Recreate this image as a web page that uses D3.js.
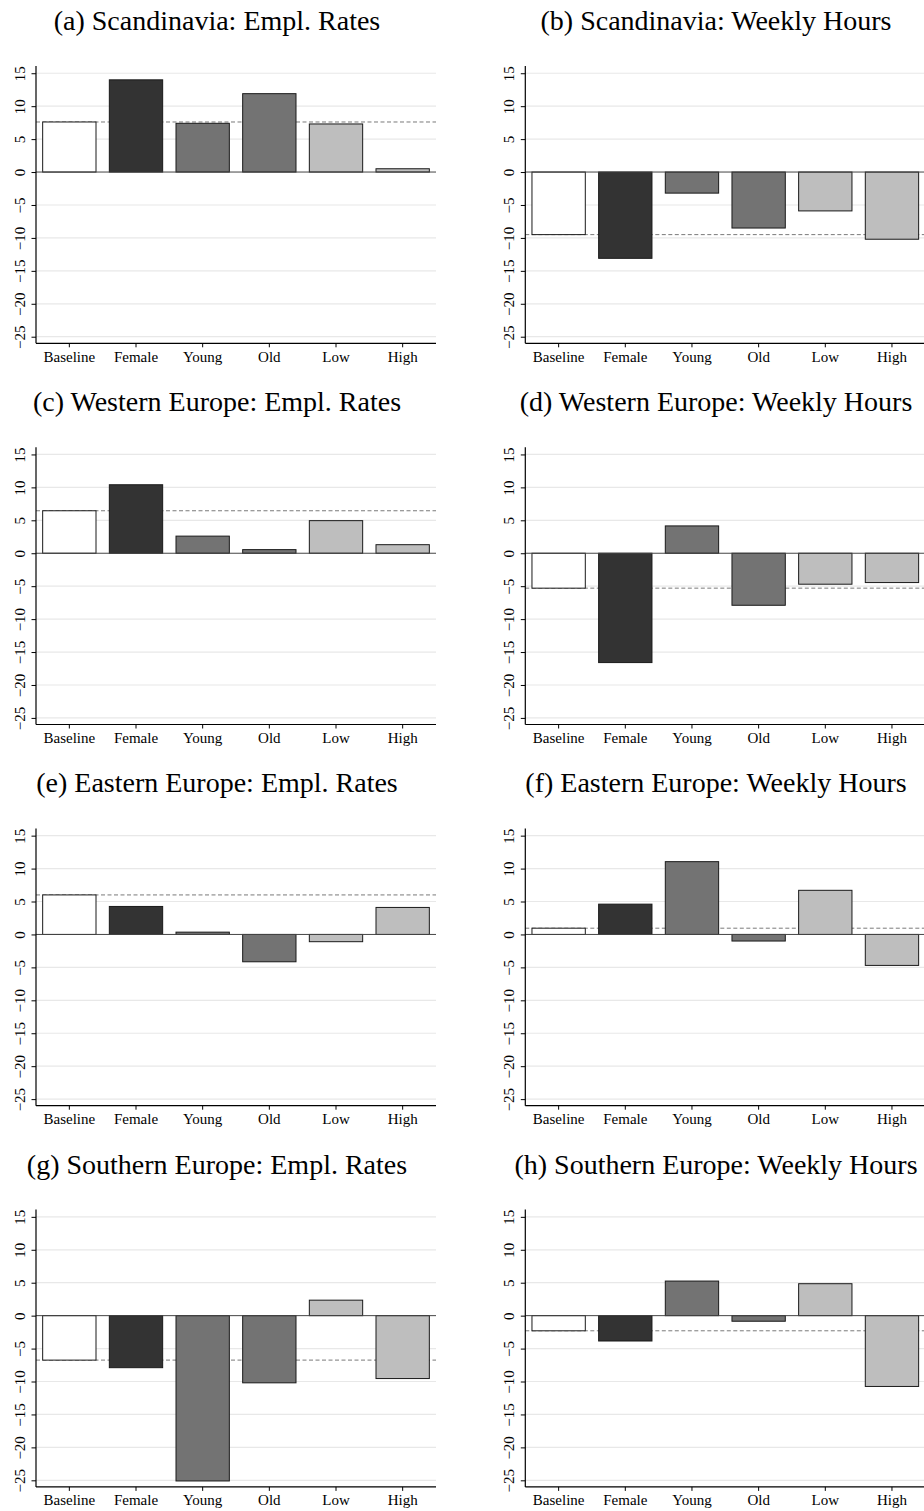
<!DOCTYPE html>
<html>
<head>
<meta charset="utf-8">
<script src="https://cdn.jsdelivr.net/npm/d3@7"></script>
<style>
  html, body { margin: 0; padding: 0; background: #fff; overflow: hidden; }
  svg { display: block; font-family: "Liberation Serif", "Times New Roman", serif; }
</style>
</head>
<body>
<svg id="chart" width="924" height="1511"></svg>
<script>
// Groups shown on every panel
const categories = ["Baseline", "Female", "Young", "Old", "Low", "High"];

// Effects by region (percent), one array per panel
const scandinaviaEmpl  = [7.6, 14.0, 7.4, 11.9, 7.3, 0.5];
const scandinaviaHours = [-9.5, -13.1, -3.2, -8.5, -5.9, -10.2];
const westernEmpl      = [6.45, 10.4, 2.6, 0.55, 4.95, 1.3];
const westernHours     = [-5.3, -16.6, 4.15, -7.9, -4.7, -4.45];
const easternEmpl      = [6.0, 4.25, 0.35, -4.15, -1.1, 4.1];
const easternHours     = [0.95, 4.6, 11.05, -1.0, 6.7, -4.7];
const southernEmpl     = [-6.75, -7.9, -25.1, -10.2, 2.35, -9.55];
const southernHours    = [-2.3, -3.85, 5.25, -0.85, 4.85, -10.75];

const yTicks = [-25, -20, -15, -10, -5, 0, 5, 10, 15];

const panelTitles = [
  "(a) Scandinavia: Empl. Rates", "(b) Scandinavia: Weekly Hours",
  "(c) Western Europe: Empl. Rates", "(d) Western Europe: Weekly Hours",
  "(e) Eastern Europe: Empl. Rates", "(f) Eastern Europe: Weekly Hours",
  "(g) Southern Europe: Empl. Rates", "(h) Southern Europe: Weekly Hours"
];
const panelValues = [
  scandinaviaEmpl, scandinaviaHours,
  westernEmpl, westernHours,
  easternEmpl, easternHours,
  southernEmpl, southernHours
];

const barFill = ["#ffffff", "#333333", "#737373", "#737373", "#bebebe", "#bebebe"];

const svg = d3.select("#chart");

const colAxisX = [36, 525.3];
const titleCenterX = [217, 716];
const plotW = 400;
const rowStep = 381.2;
const plotTop = 66, plotBottom = 343.3;

panelValues.forEach((vals, i) => {
  const col = i % 2, row = Math.floor(i / 2);
  const x0 = colAxisX[col];
  const dy = row * rowStep;

  const g = svg.append("g").attr("transform", `translate(0,${dy})`);

  const x = d3.scaleBand()
    .domain(categories)
    .range([x0, x0 + plotW])
    .paddingInner(0.2)
    .paddingOuter(0.1);

  const y = d3.scaleLinear()
    .domain([-26, 16.1])
    .range([plotBottom, plotTop]);

  // title
  g.append("text")
    .attr("x", titleCenterX[col])
    .attr("y", 30)
    .attr("text-anchor", "middle")
    .attr("font-size", 28)
    .attr("fill", "#000")
    .text(panelTitles[i]);

  // horizontal grid
  g.append("g").selectAll("line")
    .data(yTicks.filter(t => t !== 0))
    .join("line")
    .attr("x1", x0).attr("x2", x0 + plotW)
    .attr("y1", d => y(d)).attr("y2", d => y(d))
    .attr("stroke", "#e8e8e8")
    .attr("stroke-width", 1.2);

  // dashed reference at the baseline effect
  g.append("line")
    .attr("x1", x0).attr("x2", x0 + plotW)
    .attr("y1", y(vals[0])).attr("y2", y(vals[0]))
    .attr("stroke", "#7a7a7a")
    .attr("stroke-width", 1)
    .attr("stroke-dasharray", "4,2.5");

  // bars
  g.append("g").selectAll("rect")
    .data(vals)
    .join("rect")
    .attr("x", (d, j) => x(categories[j]))
    .attr("width", x.bandwidth())
    .attr("y", d => y(Math.max(0, d)))
    .attr("height", d => Math.abs(y(d) - y(0)))
    .attr("fill", (d, j) => barFill[j])
    .attr("stroke", "#1a1a1a")
    .attr("stroke-width", 1);

  // zero line
  g.append("line")
    .attr("x1", x0).attr("x2", x0 + plotW)
    .attr("y1", y(0)).attr("y2", y(0))
    .attr("stroke", "#444")
    .attr("stroke-width", 1);

  // y axis
  const yAxis = d3.axisLeft(y)
    .tickValues(yTicks)
    .tickSize(4.5)
    .tickPadding(0)
    .tickFormat(d3.format("d"));
  const ya = g.append("g")
    .attr("transform", `translate(${x0},0)`)
    .call(yAxis);
  ya.select(".domain")
    .attr("d", `M0,${plotTop}V${plotBottom}`)
    .attr("stroke", "#000")
    .attr("stroke-width", 1.2);
  ya.selectAll(".tick line").attr("stroke", "#000").attr("stroke-width", 1);
  ya.selectAll(".tick text")
    .attr("font-family", "Liberation Serif, Times New Roman, serif")
    .attr("font-size", 15)
    .attr("fill", "#000")
    .attr("x", null).attr("dy", null)
    .attr("text-anchor", "middle")
    .attr("transform", "translate(-11,0) rotate(-90)");

  // x axis
  const xAxis = d3.axisBottom(x)
    .tickSize(4)
    .tickPadding(0);
  const xa = g.append("g")
    .attr("transform", `translate(0,${plotBottom})`)
    .call(xAxis);
  xa.select(".domain")
    .attr("d", `M${x0},0H${x0 + plotW}`)
    .attr("stroke", "#000")
    .attr("stroke-width", 1.2);
  xa.selectAll(".tick line").attr("stroke", "#000").attr("stroke-width", 1);
  xa.selectAll(".tick text")
    .attr("font-family", "Liberation Serif, Times New Roman, serif")
    .attr("font-size", 15)
    .attr("fill", "#000")
    .attr("dy", null)
    .attr("y", 18.4);
});
</script>
</body>
</html>
